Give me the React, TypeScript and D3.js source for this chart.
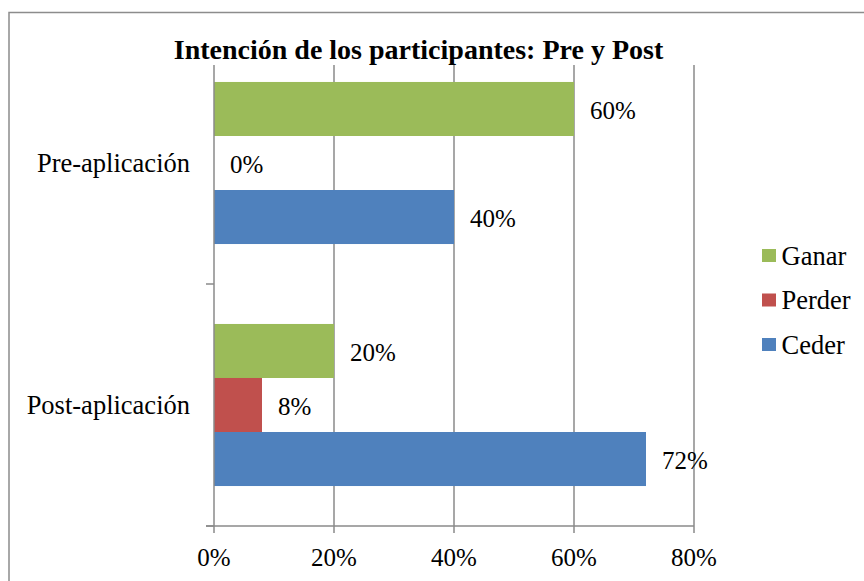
import React from "react";
import * as d3 from "d3";

const categories = ["Pre-aplicación", "Post-aplicación"];
const seriesNames = ["Ganar", "Perder", "Ceder"];
const ganar = [60, 20];
const perder = [0, 8];
const ceder = [40, 72];
const xTicks = [0, 20, 40, 60, 80];
const colors = ["#9BBB59", "#C0504D", "#4F81BD"];

const W = 864;
const H = 581;
const FONT = "Liberation Serif, Times New Roman, DejaVu Serif, serif";

export default function App() {
  const values = [ganar, perder, ceder];
  const x = d3.scaleLinear().domain([0, 80]).range([214, 694]);
  const yCat = d3.scaleBand().domain(categories).range([42, 526]);
  const ySer = d3
    .scaleBand()
    .domain(seriesNames)
    .range([0, yCat.bandwidth()])
    .paddingInner(0)
    .paddingOuter(0.74);
  const plotTop = 65;
  const plotBottom = 526;
  const gridColor = "#8a8a8a";

  return (
    <svg
      width={W}
      height={H}
      style={{ position: "absolute", left: 0, top: 0 }}
      fontFamily={FONT}
    >
      <rect x={0} y={0} width={W} height={H} fill="#fff" />
      <rect
        x={9}
        y={12.5}
        width={W + 20}
        height={H + 20}
        fill="#fff"
        stroke="#8c8c8c"
        strokeWidth={1.5}
      />
      {xTicks.slice(1).map((t) => (
        <line
          key={"g" + t}
          x1={x(t)}
          x2={x(t)}
          y1={plotTop}
          y2={plotBottom}
          stroke={gridColor}
          strokeWidth={1.5}
        />
      ))}
      {categories.map((c, ci) =>
        seriesNames.map((s, si) => (
          <rect
            key={c + s}
            x={x(0)}
            y={(yCat(c) as number) + (ySer(s) as number)}
            width={x(values[si][ci]) - x(0)}
            height={ySer.bandwidth()}
            fill={colors[si]}
          />
        ))
      )}
      <line x1={x(0)} x2={x(0)} y1={plotTop} y2={plotBottom} stroke={gridColor} strokeWidth={1.5} />
      <line x1={206} x2={x(80)} y1={plotBottom} y2={plotBottom} stroke={gridColor} strokeWidth={1.5} />
      {xTicks.map((t) => (
        <line key={"t" + t} x1={x(t)} x2={x(t)} y1={plotBottom} y2={plotBottom + 7} stroke={gridColor} strokeWidth={1.5} />
      ))}
      {categories.map((c) => (
        <line
          key={"ct" + c}
          x1={206}
          x2={x(0)}
          y1={(yCat(c) as number) + yCat.bandwidth()}
          y2={(yCat(c) as number) + yCat.bandwidth()}
          stroke={gridColor}
          strokeWidth={1.5}
        />
      ))}
      {xTicks.map((t) => (
        <text key={"xl" + t} x={x(t)} y={565.5} textAnchor="middle" fontSize={25} fontFamily={FONT} fill="#000">
          {t + "%"}
        </text>
      ))}
      {categories.map((c) => (
        <text
          key={"cl" + c}
          x={190}
          y={(yCat(c) as number) + yCat.bandwidth() / 2 + 8.5}
          textAnchor="end"
          fontSize={26.5}
          fontFamily={FONT}
          fill="#000"
        >
          {c}
        </text>
      ))}
      {categories.map((c, ci) =>
        seriesNames.map((s, si) => (
          <text
            key={"dl" + c + s}
            x={x(values[si][ci]) + 16}
            y={(yCat(c) as number) + (ySer(s) as number) + ySer.bandwidth() / 2 + 10}
            fontSize={25}
            fontFamily={FONT}
            fill="#000"
          >
            {values[si][ci] + "%"}
          </text>
        ))
      )}
      <text x={418.5} y={59} textAnchor="middle" fontSize={28} fontWeight="bold" fontFamily={FONT} fill="#000">
        Intención de los participantes: Pre y Post
      </text>
      {seriesNames.map((s, i) => (
        <g key={"lg" + s} transform={`translate(762, ${249 + i * 44.5})`}>
          <rect x={0} y={0} width={14} height={13} fill={colors[i]} />
          <text x={19.5} y={15.5} fontSize={26.5} fontFamily={FONT} fill="#000">
            {s}
          </text>
        </g>
      ))}
    </svg>
  );
}
